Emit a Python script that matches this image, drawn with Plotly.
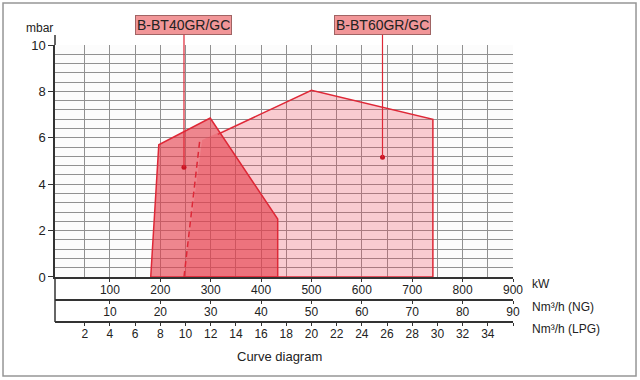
import plotly.graph_objects as go

# ---- data ----
kw_ticks = [100, 200, 300, 400, 500, 600, 700, 800, 900]
kw_minor = [50, 150, 250, 350, 450, 550, 650, 750, 850]
ng_ticks = [10, 20, 30, 40, 50, 60, 70, 80, 90]
lpg_ticks = [2, 4, 6, 8, 10, 12, 14, 16, 18, 20, 22, 24, 26, 28, 30, 32, 34, 36]
lpg_text = [str(v) for v in lpg_ticks[:-1]] + [""]
y_ticks = [0, 2, 4, 6, 8, 10]

bt40_kw = [181, 197, 299, 433, 433, 181]
bt40_mbar = [0, 5.7, 6.85, 2.5, 0, 0]

bt60_kw = [247, 283, 500, 741, 741, 247]
bt60_mbar = [0, 5.9, 8.05, 6.8, 0, 0]
bt60_edge_kw = [314, 500, 741, 741, 247]
bt60_edge_mbar = [6.15, 8.05, 6.8, 0, 0]

dash_kw = [247, 278, 283]
dash_mbar = [0, 5.83, 5.9]

names = ["B-BT40GR/GC", "B-BT60GR/GC"]
mark_kw = [247, 641]
mark_mbar = [4.73, 5.16]

RED = "rgb(222,40,55)"
GRID = "rgb(145,145,145)"
FONT = "Liberation Sans, Arial, sans-serif"

fig = go.Figure()

# BT60 area
fig.add_trace(go.Scatter(x=bt60_kw, y=bt60_mbar, fill="toself", mode="lines",
                         line=dict(width=0), fillcolor="rgba(240,60,80,0.26)",
                         hoverinfo="skip", showlegend=False))
fig.add_trace(go.Scatter(x=bt60_edge_kw, y=bt60_edge_mbar, mode="lines",
                         line=dict(color=RED, width=1.5),
                         hoverinfo="skip", showlegend=False))
# BT40 area
fig.add_trace(go.Scatter(x=bt40_kw, y=bt40_mbar, fill="toself", mode="lines",
                         line=dict(color=RED, width=1.5), fillcolor="rgba(229,62,74,0.62)",
                         hoverinfo="skip", showlegend=False))
# dashed line
fig.add_trace(go.Scatter(x=dash_kw, y=dash_mbar, mode="lines",
                         line=dict(color=RED, width=1.5, dash="6px,4px"),
                         hoverinfo="skip", showlegend=False))
# label dots
fig.add_trace(go.Scatter(x=mark_kw, y=mark_mbar, mode="markers",
                         marker=dict(color="rgb(200,20,35)", size=5),
                         hoverinfo="skip", showlegend=False))
# dummy traces so the extra axes render
fig.add_trace(go.Scatter(x=ng_ticks, y=[0] * len(ng_ticks), xaxis="x2", yaxis="y",
                         mode="markers", marker=dict(opacity=0), hoverinfo="skip", showlegend=False))
fig.add_trace(go.Scatter(x=lpg_ticks, y=[0] * len(lpg_ticks), xaxis="x3", yaxis="y",
                         mode="markers", marker=dict(opacity=0), hoverinfo="skip", showlegend=False))

for name, xk, ym, ay in zip(names, mark_kw, mark_mbar, [-142, -132]):
    fig.add_annotation(x=xk, y=ym, xref="x", yref="y", text=name, showarrow=True,
                       ax=0, ay=ay, arrowhead=0, arrowwidth=1.2, arrowcolor=RED,
                       bgcolor="rgb(241,150,152)", bordercolor="rgb(160,100,100)",
                       borderwidth=1, borderpad=1,
                       font=dict(family=FONT, size=14, color="#222"))

label_font = dict(family=FONT, size=12, color="#222")
common = dict(xref="paper", yref="paper", showarrow=False, yanchor="middle")
fig.add_annotation(x=-0.033, y=1.061, text="mbar", xanchor="center", font=label_font, **common)
fig.add_annotation(x=1.037, y=0.137, text="kW", xanchor="left", font=label_font, **common)
fig.add_annotation(x=1.037, y=0.054, text="Nm³/h (NG)", xanchor="left", font=label_font, **common)
fig.add_annotation(x=1.037, y=-0.025, text="Nm³/h (LPG)", xanchor="left", font=label_font, **common)
fig.add_annotation(x=0.491, y=-0.126, text="Curve diagram", xanchor="center",
                   font=dict(family=FONT, size=13, color="#222"), **common)

# y-axis line extensions and frame
fig.add_shape(type="line", xref="paper", yref="paper", x0=0, x1=0, y0=0, y1=0.1625,
              line=dict(color="#333", width=1.5))
fig.add_shape(type="line", xref="paper", yref="paper", x0=0, x1=0, y0=1.0, y1=1.036,
              line=dict(color="#333", width=1.5))
fig.add_shape(type="rect", xref="paper", yref="paper", x0=-0.1135, x1=1.2686,
              y0=-0.195, y1=1.1516, line=dict(color="rgb(150,150,150)", width=1.5))

tickfont = dict(family=FONT, size=12, color="#222")
fig.update_layout(
    width=640, height=380,
    margin=dict(l=55, r=127, t=45, b=58),
    paper_bgcolor="white", plot_bgcolor="rgb(252,252,252)",
    hovermode=False,
    xaxis=dict(range=[-9, 900], domain=[0, 1], tickvals=kw_ticks, ticks="outside",
               ticklen=3, tickcolor="#333", showline=True, linecolor="#333", linewidth=1.5,
               showgrid=True, gridcolor=GRID, gridwidth=1, zeroline=False,
               minor=dict(tickvals=kw_minor, showgrid=True, gridcolor=GRID, gridwidth=1),
               tickfont=tickfont, anchor="y", ticklabelstandoff=-2),
    xaxis2=dict(range=[-0.9, 90], overlaying="x", anchor="free", position=0.0794,
                side="bottom", tickvals=ng_ticks, ticks="outside", ticklen=3, tickcolor="#333",
                showline=True, linecolor="#333", linewidth=1.5, showgrid=False,
                zeroline=False, tickfont=tickfont, ticklabelstandoff=-2),
    xaxis3=dict(range=[-0.36, 36], overlaying="x", anchor="free", position=0.0,
                side="bottom", tickvals=lpg_ticks, ticktext=lpg_text, ticks="outside",
                ticklen=3, tickcolor="#333", showline=True, linecolor="#333", linewidth=1.5,
                showgrid=False, zeroline=False, tickfont=tickfont, ticklabelstandoff=-2),
    yaxis=dict(range=[0, 10], domain=[0.1625, 1], tickvals=y_ticks, ticks="outside",
               ticklen=5, tickcolor="#333", showline=True, linecolor="#333", linewidth=1.5,
               showgrid=True, gridcolor=GRID, gridwidth=1, zeroline=False,
               minor=dict(dtick=0.4, tick0=0, showgrid=True, gridcolor=GRID, gridwidth=1),
               tickfont=dict(family=FONT, size=13, color="#222")),
)

fig.write_html("out.html", config={"displayModeBar": False})
